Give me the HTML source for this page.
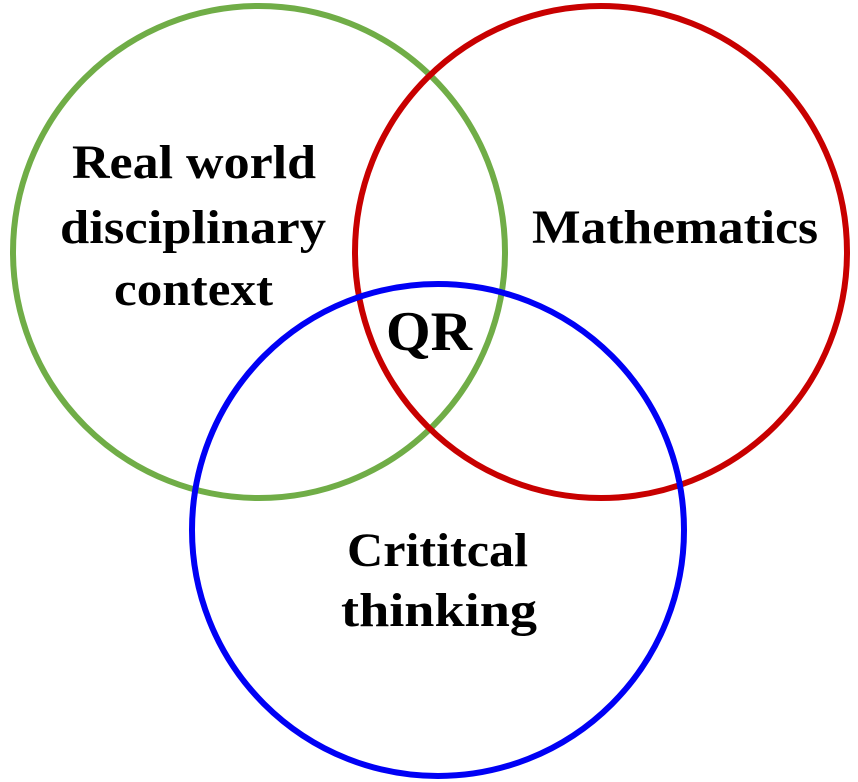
<!DOCTYPE html>
<html><head><meta charset="utf-8"><style>html,body{margin:0;padding:0;background:#fff}svg{display:block}</style></head>
<body>
<svg width="858" height="782" viewBox="0 0 858 782" xmlns="http://www.w3.org/2000/svg">
<circle cx="259" cy="252" r="246" fill="none" stroke="#70AD47" stroke-width="6"/>
<circle cx="601" cy="252" r="246" fill="none" stroke="#C80000" stroke-width="6"/>
<circle cx="438" cy="530" r="246" fill="none" stroke="#0000F5" stroke-width="6"/>
<g font-family="'Liberation Serif', serif" font-weight="bold" font-size="48" fill="#000">
<text x="72" y="178" textLength="244" lengthAdjust="spacingAndGlyphs">Real world</text>
<text x="60" y="243" textLength="266" lengthAdjust="spacingAndGlyphs">disciplinary</text>
<text x="114" y="305" textLength="159" lengthAdjust="spacingAndGlyphs">context</text>
<text x="532" y="243" textLength="286" lengthAdjust="spacingAndGlyphs">Mathematics</text>
<text x="386" y="350" font-size="56" textLength="86" lengthAdjust="spacingAndGlyphs">QR</text>
<text x="347" y="566" textLength="181" lengthAdjust="spacingAndGlyphs">Crititcal</text>
<text x="341" y="626" textLength="196" lengthAdjust="spacingAndGlyphs">thinking</text>
</g>
</svg>
</body></html>
